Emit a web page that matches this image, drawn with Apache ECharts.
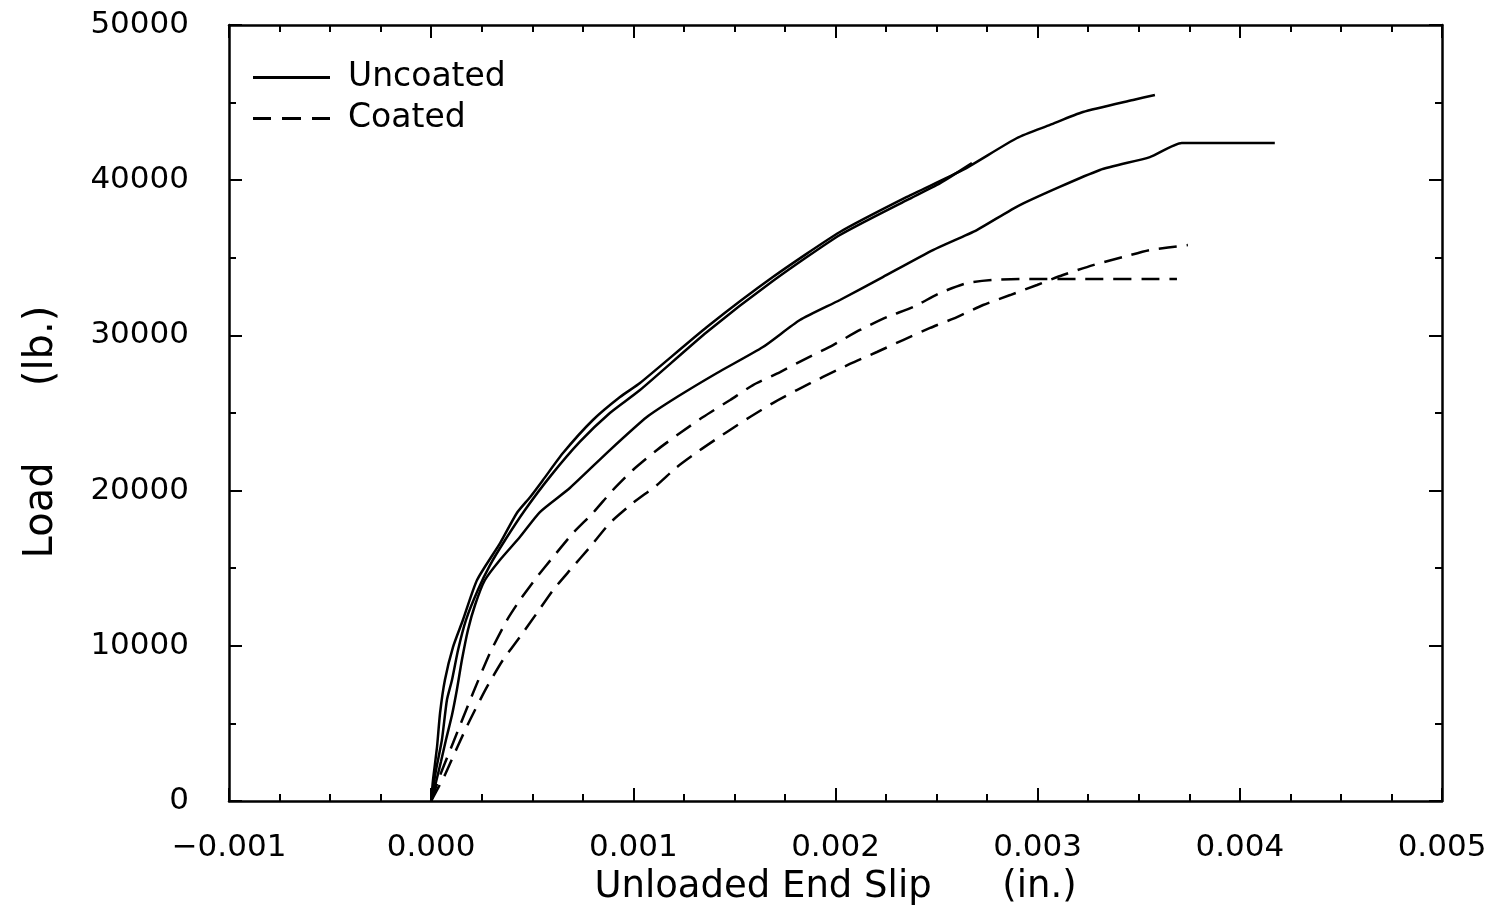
<!DOCTYPE html>
<html>
<head>
<meta charset="utf-8">
<script src="https://cdn.jsdelivr.net/npm/echarts@6/dist/echarts.min.js"></script>
<style>html,body{margin:0;padding:0;background:#fff;}#c{width:1496px;height:920px;}</style>
</head>
<body>
<div id="c"></div>
<script>
// Unloaded end slip (in.) vs load (lb.)
const uncoated1 = [[0,0],[0.000009,1350],[0.000029,3480],[0.000044,5670],[0.000068,7800],[0.000108,9920],[0.000157,11660],[0.000227,14240],[0.000341,16620],[0.000424,18560],[0.000490,19590],[0.000553,20680],[0.000652,22420],[0.000800,24550],[0.000934,26030],[0.001033,26930],[0.001364,30540],[0.001690,33760],[0.002022,36660],[0.002353,38920],[0.002630,40660],[0.002898,42720],[0.003061,43560],[0.003224,44390],[0.003472,45170],[0.003580,45490]];
const uncoated2 = [[0,0],[0.000024,1220],[0.000048,2510],[0.000073,3930],[0.000103,5540],[0.000127,7150],[0.000152,9080],[0.000182,11020],[0.000217,12630],[0.000266,14240],[0.000340,15530],[0.000439,17010],[0.000538,18620],[0.000686,20170],[0.000884,22610],[0.001067,24740],[0.001216,26030],[0.001414,27580],[0.001641,29250],[0.001824,30990],[0.002022,32280],[0.002234,33760],[0.002482,35500],[0.002699,36790],[0.002912,38400],[0.003308,40660],[0.003555,41490],[0.003713,42400],[0.004173,42400]];
const uncoated3 = [[0,0],[0.000024,2000],[0.000053,3930],[0.000078,6510],[0.000103,7800],[0.000133,9730],[0.000172,11660],[0.000231,13600],[0.000291,15200],[0.000365,16800],[0.000464,18750],[0.000588,20900],[0.000736,23150],[0.000884,25000],[0.001033,26480],[0.001364,30220],[0.001690,33500],[0.002022,36470],[0.002353,38720],[0.002516,39800],[0.002675,41100]];
const coated1 = [[0,0],[0.000045,1680],[0.000108,3740],[0.000207,6960],[0.000291,9540],[0.000375,11660],[0.000439,12950],[0.000523,14430],[0.000603,15720],[0.000702,17270],[0.000800,18560],[0.000899,20040],[0.000998,21330],[0.001117,22620],[0.001231,23710],[0.001345,24740],[0.001479,25840],[0.001592,26800],[0.001726,27640],[0.001859,28540],[0.001988,29380],[0.002121,30350],[0.002255,31180],[0.002384,31830],[0.002517,32730],[0.002650,33370],[0.002779,33570],[0.002927,33630],[0.003224,33630],[0.003689,33630]];
const coated2 = [[0,0],[0.000068,1680],[0.000132,3550],[0.000192,5220],[0.000276,7350],[0.000355,9090],[0.000439,10570],[0.000523,12110],[0.000603,13590],[0.000687,14880],[0.000786,16370],[0.000884,17910],[0.000998,19200],[0.001117,20360],[0.001216,21520],[0.001330,22610],[0.001463,23780],[0.001577,24740],[0.001690,25640],[0.001809,26480],[0.001938,27320],[0.002071,28160],[0.002205,28930],[0.002334,29700],[0.002468,30480],[0.002601,31180],[0.002730,31960],[0.002864,32600],[0.002997,33250],[0.003125,33890],[0.003274,34530],[0.003422,35050],[0.003555,35500],[0.003743,35820]];
const xTicks = {min: -0.001, max: 0.005, interval: 0.001};
const yTicks = {min: 0, max: 50000, interval: 10000};
const xName = 'Unloaded End Slip      (in.)';
const yName = 'Load      (lb.)   ';
const legendNames = ['Uncoated', 'Coated'];

const FONT = 'DejaVu Sans';
const chart = echarts.init(document.getElementById('c'), null, {renderer: 'canvas'});
const axisLine = {show: true, onZero: false, lineStyle: {color: '#000', width: 2.5}};
const tick = {show: true, inside: true, length: 13, lineStyle: {color: '#000', width: 2}};
const minor = {show: true, length: 7, lineStyle: {color: '#000', width: 2}};
function fmtX(v) {
  const r = Math.round(v * 1000) / 1000;
  return (r < 0 ? '\u2212' : '') + Math.abs(r).toFixed(3);
}
function line(name, data, dashed) {
  return {
    type: 'line', name: name, data: data, showSymbol: false, symbol: 'none',
    smooth: 0.2,
    color: '#000', itemStyle: {color: '#000'},
    xAxisIndex: 0, yAxisIndex: 0, animation: false, silent: true,
    lineStyle: {color: '#000', width: 2.5, type: dashed ? [18, 10] : 'solid'}
  };
}
const solidIcon = 'path://M0,0h77v3h-77z';
const dashIcon = 'path://M0,0h18v3h-18z M29,0h19v3h-19z M59,0h18v3h-18z';
chart.setOption({
  animation: false,
  backgroundColor: '#fff',
  grid: {left: 229, right: 54, top: 25, bottom: 119, containLabel: false},
  legend: {
    orient: 'vertical', left: 248, top: 56, itemWidth: 77, itemHeight: 3, itemGap: 8,
    data: [{name: legendNames[0], icon: solidIcon, itemStyle: {color: '#000'}},
           {name: legendNames[1], icon: dashIcon, itemStyle: {color: '#000'}}],
    textStyle: {fontFamily: FONT, fontSize: 33, color: '#000', padding: [0, 0, 0, 13]}
  },
  xAxis: [
    {type: 'value', position: 'bottom', min: xTicks.min, max: xTicks.max, interval: xTicks.interval,
     axisLine: axisLine, axisTick: tick, minorTick: Object.assign({splitNumber: 4}, minor),
     splitLine: {show: false}, minorSplitLine: {show: false},
     axisLabel: {formatter: fmtX, margin: 31, fontFamily: FONT, fontSize: 31, color: '#000'},
     name: xName, nameLocation: 'middle', nameGap: 68,
     nameTextStyle: {fontFamily: FONT, fontSize: 37, color: '#000'}},
    {type: 'value', position: 'top', min: xTicks.min, max: xTicks.max, interval: xTicks.interval,
     axisLine: axisLine, axisTick: tick, minorTick: Object.assign({splitNumber: 4}, minor),
     splitLine: {show: false}, axisLabel: {show: false}}
  ],
  yAxis: [
    {type: 'value', position: 'left', min: yTicks.min, max: yTicks.max, interval: yTicks.interval,
     axisLine: axisLine, axisTick: tick, minorTick: Object.assign({splitNumber: 2}, minor),
     splitLine: {show: false},
     axisLabel: {formatter: function (v) { return String(v); }, margin: 40, fontFamily: FONT, fontSize: 31, color: '#000'},
     name: yName, nameLocation: 'middle', nameGap: 167, nameRotate: 90,
     nameTextStyle: {fontFamily: FONT, fontSize: 40, color: '#000'}},
    {type: 'value', position: 'right', min: yTicks.min, max: yTicks.max, interval: yTicks.interval,
     axisLine: axisLine, axisTick: tick, minorTick: Object.assign({splitNumber: 2}, minor),
     splitLine: {show: false}, axisLabel: {show: false}}
  ],
  series: [
    line(legendNames[0], uncoated1, false),
    line(legendNames[0], uncoated2, false),
    line(legendNames[0], uncoated3, false),
    line(legendNames[1], coated1, true),
    line(legendNames[1], coated2, true)
  ]
});
</script>
</body>
</html>
